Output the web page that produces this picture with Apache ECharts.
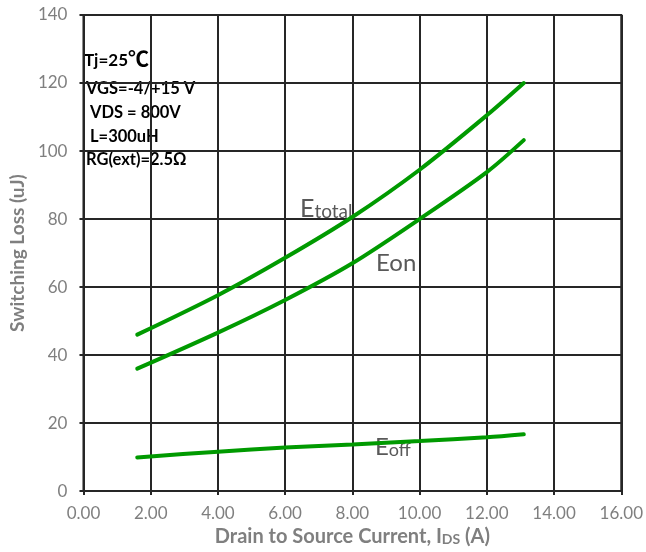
<!DOCTYPE html>
<html>
<head>
<meta charset="utf-8">
<script src="https://cdn.jsdelivr.net/npm/echarts@6/dist/echarts.min.js"></script>
<style>html,body{margin:0;padding:0;background:#fff;}#c{width:646px;height:552px;}</style>
</head>
<body>
<div id="c"></div>
<script>
const currents = [1.6, 4, 6, 8, 10, 12, 13.1];
const eTotal = [46, 57.6, 68.6, 80.6, 94.5, 110.5, 120];
const eOn = [36, 46.6, 56.2, 67, 80, 93.8, 103.2];
const eOff = [9.9, 11.6, 12.8, 13.7, 14.7, 15.8, 16.7];
const conditions = ['{t|Tj=25}{c|℃}', '{a|VGS=-4/+15 V}', '{a| VDS = 800V}', '{a| L=300uH}', '{a|RG(ext)=2.5Ω}'];

const FONT = 'Lato, "Open Sans", sans-serif';
const GRID = '#262626';
const green = '#009a00';
function pairs(ys){ return currents.map((x,i)=>[x, ys[i]]); }

const chart = echarts.init(document.getElementById('c'), null, {renderer:'canvas'});
const condY = [61, 91.5, 115, 139, 162.5];
const condX = [84, 86, 86, 86, 86];
const condRich = {
  t:{fontSize:17, fontWeight:'bold', fontFamily:FONT, fill:'#000', verticalAlign:'bottom'},
  a:{fontSize:16.5, fontWeight:'bold', fontFamily:FONT, fill:'#000', verticalAlign:'bottom'},
  c:{fontSize:21, fontWeight:'bold', fontFamily:'"Noto Sans CJK SC", ' + FONT, fill:'#000', verticalAlign:'bottom'}
};
const graphics = conditions.map((t,i)=>({
  type:'text', left: condX[i], top: condY[i]-(i===0?13:11),
  style:{text:t, rich:condRich}
}));
graphics.push({type:'text', left:300, top:196, style:{text:'{a|E}{b|total}', fill:'#595959',
  rich:{a:{fontSize:25, fontFamily:FONT, fill:'#595959', verticalAlign:'bottom'}, b:{fontSize:19, fontFamily:FONT, fill:'#595959', verticalAlign:'bottom'}}}});
graphics.push({type:'text', left:376, top:251, style:{text:'{a|Eon}', fill:'#595959',
  rich:{a:{fontSize:24, fontFamily:FONT, fill:'#595959'}}}});
graphics.push({type:'text', left:375, top:435, style:{text:'{a|E}{b|off}', fill:'#595959',
  rich:{a:{fontSize:24, fontFamily:FONT, fill:'#595959', verticalAlign:'bottom'}, b:{fontSize:18, fontFamily:FONT, fill:'#595959', verticalAlign:'bottom'}}}});

chart.setOption({
  animation:false,
  backgroundColor:'#fff',
  grid:{left:77, right:22, top:15, bottom:60, show:true, borderColor:GRID, borderWidth:2},
  xAxis:{type:'value', min:0, max:16, interval:2,
    axisLine:{show:true, lineStyle:{color:GRID, width:2}},
    axisTick:{show:true, length:4, lineStyle:{color:GRID, width:2}},
    splitLine:{show:true, lineStyle:{color:GRID, width:2}},
    axisLabel:{formatter:v=>v.toFixed(2), color:'#7f7f7f', fontSize:17, fontFamily:FONT, margin:14},
    name:'{a|Drain to Source Current, I}{b|DS}{a| (A)}', nameLocation:'middle', nameGap:33,
    nameTextStyle:{rich:{a:{fontSize:20, fontWeight:'bold', color:'#7f7f7f', fontFamily:FONT, verticalAlign:'bottom'},
      b:{fontSize:14, fontWeight:'bold', color:'#7f7f7f', fontFamily:FONT, verticalAlign:'bottom', padding:[0,0,1,0]}}}
  },
  yAxis:{type:'value', min:0, max:140, interval:20,
    axisLine:{show:true, lineStyle:{color:GRID, width:2}},
    axisTick:{show:true, length:4, lineStyle:{color:GRID, width:2}},
    splitLine:{show:true, lineStyle:{color:GRID, width:2}},
    axisLabel:{color:'#7f7f7f', fontSize:17, fontFamily:FONT, margin:16},
    name:'Switching Loss (uJ)', nameLocation:'middle', nameGap:47,
    nameTextStyle:{fontSize:19, fontWeight:'bold', color:'#7f7f7f', fontFamily:FONT}
  },
  series:[
    {name:'Etotal', type:'line', data:pairs(eTotal), smooth:0.3, symbol:'none', lineStyle:{color:green, width:4, cap:'round'}},
    {name:'Eon', type:'line', data:pairs(eOn), smooth:0.3, symbol:'none', lineStyle:{color:green, width:4, cap:'round'}},
    {name:'Eoff', type:'line', data:pairs(eOff), smooth:0.3, symbol:'none', lineStyle:{color:green, width:4, cap:'round'}}
  ],
  graphic:graphics
});
</script>
</body>
</html>
